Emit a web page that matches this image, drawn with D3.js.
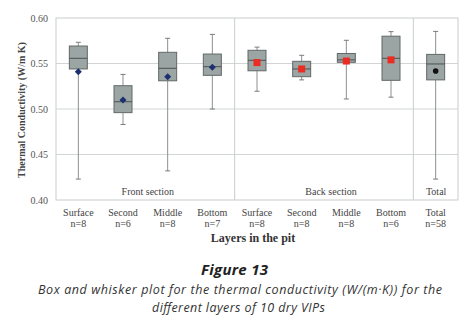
<!DOCTYPE html>
<html><head><meta charset="utf-8">
<script src="https://cdn.jsdelivr.net/npm/d3@7"></script>
<style>body{margin:0;background:#fff}svg{display:block}</style>
</head><body>
<script>
const categories = ["Surface","Second","Middle","Bottom","Surface","Second","Middle","Bottom","Total"];
const counts = ["n=8","n=6","n=8","n=7","n=8","n=8","n=8","n=6","n=58"];
const sections = ["Front","Front","Front","Front","Back","Back","Back","Back","Total"];
const sectionLabels = ["Front section","Back section","Total"];
const whiskerLow  = [0.423,0.483,0.432,0.500,0.5195,0.532,0.511,0.513,0.423];
const q1          = [0.544,0.496,0.531,0.537,0.542,0.5355,0.5513,0.5315,0.532];
const medians     = [0.5557,0.508,0.5447,0.5465,0.5535,0.544,0.554,0.5557,0.5495];
const q3          = [0.5692,0.5256,0.5623,0.5604,0.5645,0.5524,0.561,0.580,0.560];
const whiskerHigh = [0.5733,0.538,0.5777,0.582,0.568,0.559,0.5755,0.585,0.5853];
const means       = [0.541,0.510,0.5355,0.5458,0.551,0.544,0.5527,0.554,0.5418];
const yTicks = [0.40,0.45,0.50,0.55,0.60];

const W=466,H=324;
const m={l:56,r:8,t:18,b:124};
const svg=d3.select("body").append("svg").attr("width",W).attr("height",H);
const ids=categories.map((c,i)=>i);
const x=d3.scaleBand().domain(ids).range([m.l,W-m.r]).padding(0);
const y=d3.scaleLinear().domain([0.40,0.60]).range([H-m.b,m.t]);
const serif="'Liberation Serif','Times New Roman',serif";

// gridlines
svg.append("g").selectAll("line").data(yTicks.slice(1,-1)).join("line")
  .attr("x1",m.l).attr("x2",W-m.r).attr("y1",d=>y(d)).attr("y2",d=>y(d))
  .attr("stroke","#d2d5d5").attr("stroke-width",1);
// frame
svg.append("rect").attr("x",m.l).attr("y",m.t).attr("width",W-m.r-m.l).attr("height",y(0.40)-m.t)
  .attr("fill","none").attr("stroke","#c9cdcd").attr("stroke-width",1);
// section separators
const seps=[];
for(let i=1;i<sections.length;i++) if(sections[i]!==sections[i-1]) seps.push(i);
svg.append("g").selectAll("line").data(seps).join("line")
  .attr("x1",d=>x(d)).attr("x2",d=>x(d)).attr("y1",m.t).attr("y2",y(0.40))
  .attr("stroke","#c9cdcd").attr("stroke-width",1);

// y axis labels
const ya=d3.axisLeft(y).tickValues(yTicks).tickFormat(d3.format(".2f")).tickSize(0).tickPadding(8);
const yg=svg.append("g").attr("transform",`translate(${m.l},0)`).call(ya);
yg.attr("font-family",serif);
yg.select(".domain").remove();
yg.selectAll("text").attr("font-family",serif).attr("font-size",10).attr("fill","#555");

svg.append("text").attr("transform",`translate(25,${(m.t+y(0.40))/2+1}) rotate(-90)`)
  .attr("text-anchor","middle").attr("font-family",serif).attr("font-weight","bold")
  .attr("font-size",10).attr("fill","#444").text("Thermal Conductivity (W/m K)");

// boxes
const cx=i=>x(i)+x.bandwidth()/2;
const bw=18, cap=2.5;
const g=svg.append("g");
ids.forEach(i=>{
  const c=cx(i);
  g.append("line").attr("x1",c).attr("x2",c).attr("y1",y(whiskerHigh[i])).attr("y2",y(q3[i])).attr("stroke","#8c9090");
  g.append("line").attr("x1",c).attr("x2",c).attr("y1",y(q1[i])).attr("y2",y(whiskerLow[i])).attr("stroke","#8c9090");
  [whiskerHigh[i],whiskerLow[i]].forEach(v=>g.append("line").attr("x1",c-cap).attr("x2",c+cap)
    .attr("y1",y(v)).attr("y2",y(v)).attr("stroke","#777b7b"));
  g.append("rect").attr("x",c-bw/2).attr("y",y(q3[i])).attr("width",bw).attr("height",y(q1[i])-y(q3[i]))
    .attr("fill","#9ba5a3").attr("stroke","#636868").attr("stroke-width",1);
  g.append("line").attr("x1",c-bw/2).attr("x2",c+bw/2).attr("y1",y(medians[i])).attr("y2",y(medians[i]))
    .attr("stroke","#4e5353").attr("stroke-width",1);
  const my=y(means[i]);
  if(sections[i]==="Front"){
    g.append("path").attr("d",`M${c},${my-3.5}L${c+3.5},${my}L${c},${my+3.5}L${c-3.5},${my}Z`).attr("fill","#1c2f70");
  } else if(sections[i]==="Back"){
    g.append("rect").attr("x",c-3.5).attr("y",my-3.5).attr("width",7).attr("height",7).attr("fill","#ec2b22");
  } else {
    g.append("circle").attr("cx",c).attr("cy",my).attr("r",2.8).attr("fill","#111");
  }
});

// section labels
const secNames=["Front","Back","Total"];
const secOffsets=[2.5,7,0.5];
secNames.forEach((s,k)=>{
  const idx=ids.filter(i=>sections[i]===s);
  const cen=(x(idx[0])+x(idx[idx.length-1])+x.bandwidth())/2+secOffsets[k];
  svg.append("text").attr("x",cen).attr("y",y(0.40)-5).attr("text-anchor","middle")
    .attr("font-family",serif).attr("font-size",10).attr("fill","#444").text(sectionLabels[k]);
});

// x axis labels
const xa=d3.axisBottom(x).tickSize(0).tickFormat(()=>"");
const xg=svg.append("g").attr("transform",`translate(0,${y(0.40)})`).call(xa);
xg.attr("font-family",serif);
xg.select(".domain").remove();
xg.selectAll(".tick").each(function(d){
  const t=d3.select(this);
  t.append("text").attr("y",15.5).attr("text-anchor","middle").attr("font-family",serif)
    .attr("font-size",10).attr("fill","#444").text(categories[d]);
  t.append("text").attr("y",26.5).attr("text-anchor","middle").attr("font-family",serif)
    .attr("font-size",10).attr("fill","#444").text(counts[d]);
});
svg.append("text").attr("x",253).attr("y",242).attr("text-anchor","middle").attr("font-family",serif)
  .attr("font-weight","bold").attr("font-size",12).attr("fill","#333").text("Layers in the pit");

// caption
const sans="'Open Sans','Noto Sans',sans-serif";
svg.append("text").attr("x",234.5).attr("y",275).attr("text-anchor","middle").attr("font-family",sans)
  .attr("font-weight","bold").attr("font-style","italic").attr("font-size",15).attr("fill","#222")
  .attr("textLength",67).attr("lengthAdjust","spacing").text("Figure 13");
svg.append("text").attr("x",240).attr("y",294).attr("text-anchor","middle").attr("font-family",sans)
  .attr("font-style","italic").attr("font-size",12.5).attr("fill","#333")
  .attr("textLength",404).attr("lengthAdjust","spacing")
  .text("Box and whisker plot for the thermal conductivity (W/(m·K)) for the");
svg.append("text").attr("x",238.5).attr("y",312).attr("text-anchor","middle").attr("font-family",sans)
  .attr("font-style","italic").attr("font-size",12.5).attr("fill","#333")
  .attr("textLength",173).attr("lengthAdjust","spacing")
  .text("different layers of 10 dry VIPs");
</script>
</body></html>
